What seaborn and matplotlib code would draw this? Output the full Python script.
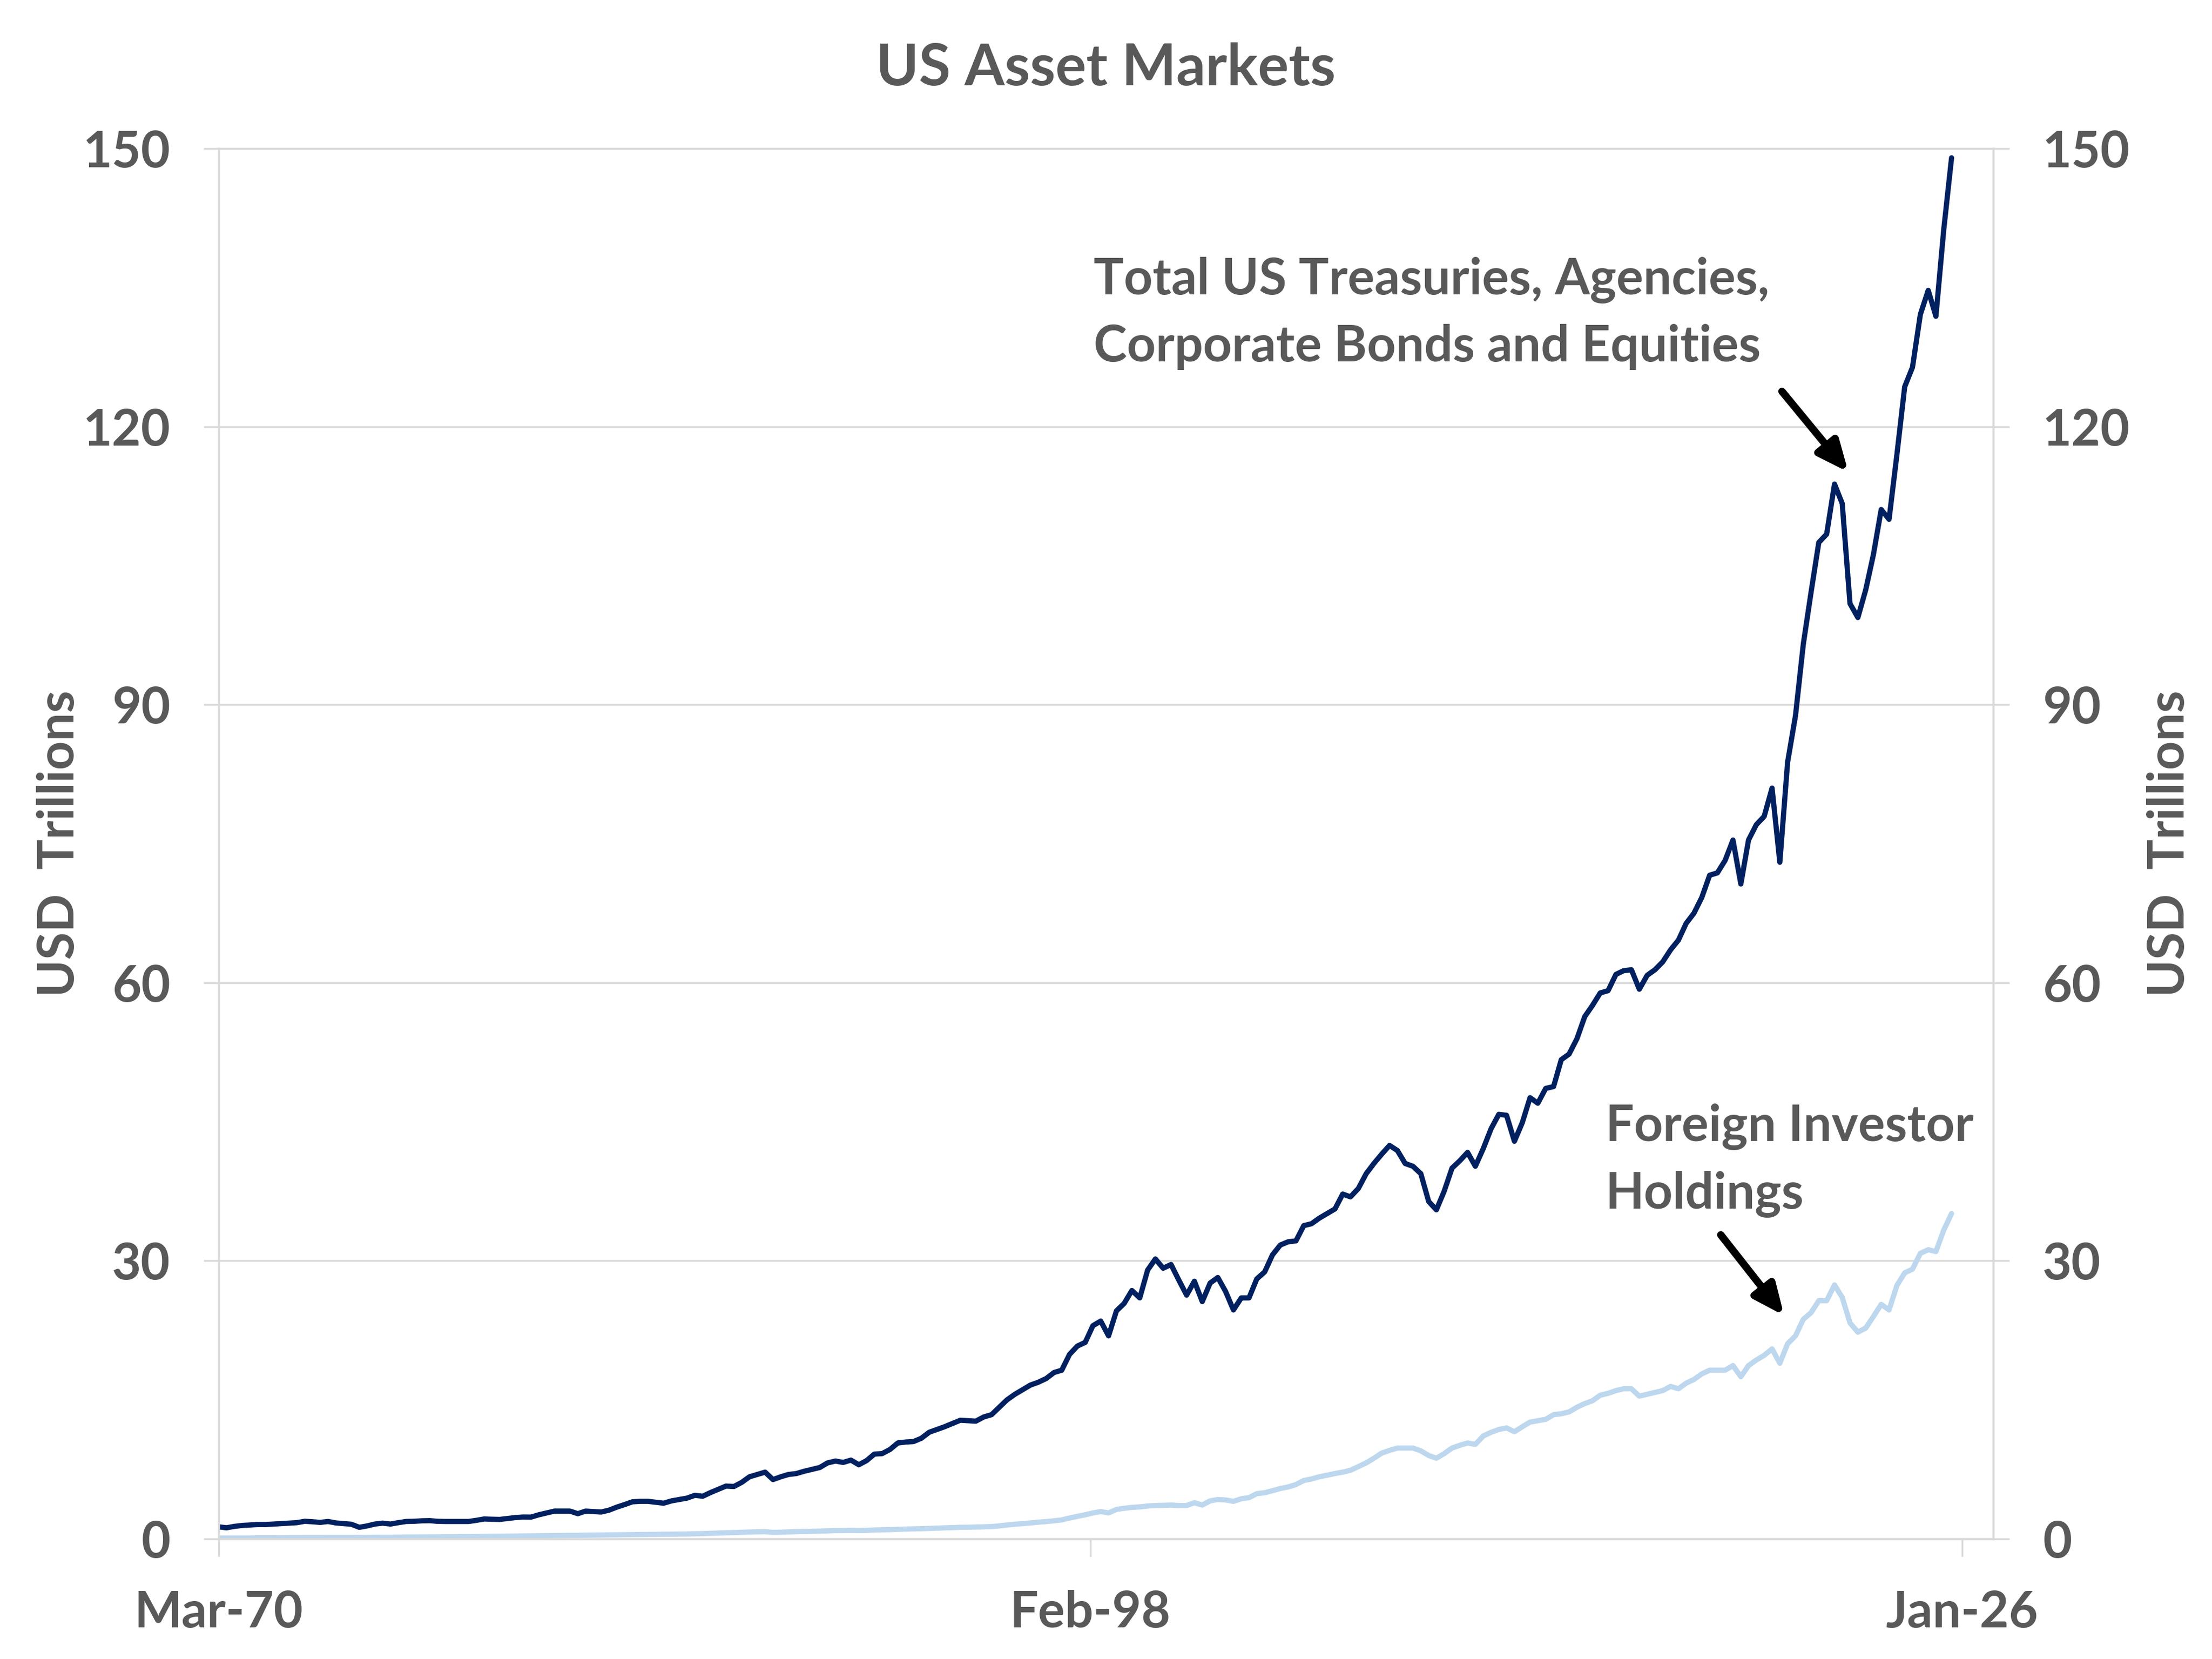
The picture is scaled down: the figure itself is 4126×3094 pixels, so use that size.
import pandas as pd
import matplotlib.pyplot as plt
import matplotlib.dates as mdates
import seaborn as sns

sns.set_theme(style="white")
plt.rcParams["font.family"] = ["Lato", "DejaVu Sans"]
plt.rcParams["font.weight"] = "bold"

TXT = "#595959"
GRID = "#d9d9d9"
NAVY = "#002060"
LIGHT = "#bdd7ee"

# quarterly values, Mar-70 .. Sep-25, USD trillions
total = [
    1.3, 1.2, 1.35, 1.45,        # 1970
    1.5, 1.55, 1.55, 1.6,        # 1971
    1.65, 1.7, 1.75, 1.9,        # 1972
    1.85, 1.78, 1.88, 1.72,      # 1973
    1.65, 1.58, 1.25, 1.4,       # 1974
    1.6, 1.7, 1.6, 1.75,         # 1975
    1.88, 1.9, 1.95, 1.97,       # 1976
    1.9, 1.88, 1.88, 1.88,       # 1977
    1.88, 2.0, 2.15, 2.12,       # 1978
    2.1, 2.2, 2.3, 2.36,         # 1979
    2.35, 2.6, 2.8, 3.0,         # 1980
    3.0, 3.0, 2.72, 3.0,         # 1981
    2.95, 2.9, 3.1, 3.43,        # 1982
    3.7, 4.0, 4.05, 4.05,        # 1983
    3.95, 3.85, 4.1, 4.25,       # 1984
    4.4, 4.7, 4.6, 5.0,          # 1985
    5.35, 5.7, 5.65, 6.1,        # 1986
    6.7, 6.95, 7.2, 6.4,         # 1987
    6.7, 6.95, 7.05, 7.3,        # 1988
    7.5, 7.7, 8.2, 8.4,          # 1989
    8.25, 8.5, 8.0, 8.45,        # 1990
    9.15, 9.2, 9.65, 10.35,      # 1991
    10.45, 10.5, 10.85, 11.5,    # 1992
    11.8, 12.1, 12.45, 12.8,     # 1993
    12.75, 12.7, 13.15, 13.4,    # 1994
    14.2, 15.0, 15.6, 16.1,      # 1995
    16.6, 16.9, 17.3, 17.95,     # 1996
    18.2, 19.9, 20.8, 21.2,      # 1997
    23.0, 23.5, 21.9, 24.6,      # 1998
    25.4, 26.8, 26.0, 29.0,      # 1999
    30.2, 29.2, 29.6, 27.9,      # 2000
    26.3, 27.8, 25.6, 27.6,      # 2001
    28.2, 26.7, 24.7, 26.0,      # 2002
    26.0, 28.05, 28.8, 30.65,    # 2003
    31.7, 32.05, 32.15, 33.8,    # 2004
    34.0, 34.6, 35.1, 35.6,      # 2005
    37.2, 36.9, 37.8, 39.4,      # 2006
    40.5, 41.5, 42.45, 41.9,     # 2007
    40.5, 40.2, 39.4, 36.4,      # 2008
    35.5, 37.5, 40.0, 40.8,      # 2009
    41.7, 40.2, 42.1, 44.25,     # 2010
    45.8, 45.7, 42.9, 44.9,      # 2011
    47.6, 47.0, 48.6, 48.8,      # 2012
    51.7, 52.3, 53.95, 56.35,    # 2013
    57.55, 58.9, 59.15, 60.9,    # 2014
    61.3, 61.4, 59.3, 60.8,      # 2015
    61.4, 62.25, 63.55, 64.6,    # 2016
    66.4, 67.5, 69.2, 71.6,      # 2017
    71.85, 73.2, 75.4, 70.65,    # 2018
    75.4, 77.05, 77.95, 81.0,    # 2019
    73.0, 83.8, 88.8, 96.55,     # 2020
    102.1, 107.5, 108.4, 113.8,  # 2021
    111.7, 100.9, 99.4, 102.4,   # 2022
    106.2, 111.05, 110.0, 117.0, # 2023
    124.3, 126.4, 132.1, 134.7,  # 2024
    131.9, 141.2, 149.0,         # 2025
]

foreign = [
    0.1, 0.1, 0.1, 0.1,          # 1970
    0.1, 0.12, 0.12, 0.12,       # 1971
    0.13, 0.14, 0.14, 0.15,      # 1972
    0.15, 0.15, 0.16, 0.16,      # 1973
    0.16, 0.16, 0.15, 0.16,      # 1974
    0.17, 0.18, 0.18, 0.19,      # 1975
    0.2, 0.2, 0.21, 0.22,        # 1976
    0.22, 0.23, 0.23, 0.24,      # 1977
    0.25, 0.26, 0.27, 0.28,      # 1978
    0.29, 0.3, 0.31, 0.32,       # 1979
    0.33, 0.34, 0.35, 0.36,      # 1980
    0.37, 0.38, 0.38, 0.4,       # 1981
    0.41, 0.42, 0.43, 0.44,      # 1982
    0.45, 0.46, 0.47, 0.48,      # 1983
    0.49, 0.5, 0.51, 0.52,       # 1984
    0.53, 0.55, 0.57, 0.6,       # 1985
    0.63, 0.66, 0.68, 0.71,      # 1986
    0.74, 0.76, 0.78, 0.7,       # 1987
    0.72, 0.75, 0.78, 0.8,       # 1988
    0.82, 0.84, 0.87, 0.9,       # 1989
    0.9, 0.92, 0.9, 0.92,        # 1990
    0.96, 0.98, 1.0, 1.04,       # 1991
    1.06, 1.08, 1.1, 1.13,       # 1992
    1.16, 1.19, 1.22, 1.25,      # 1993
    1.26, 1.28, 1.3, 1.33,       # 1994
    1.4, 1.5, 1.58, 1.65,        # 1995
    1.72, 1.8, 1.87, 1.95,       # 1996
    2.05, 2.25, 2.43, 2.6,       # 1997
    2.8, 2.95, 2.8, 3.18,        # 1998
    3.3, 3.4, 3.45, 3.55,        # 1999
    3.6, 3.62, 3.65, 3.6,        # 2000
    3.6, 3.9, 3.65, 4.1,         # 2001
    4.25, 4.2, 4.05, 4.33,       # 2002
    4.45, 4.88, 4.98, 5.2,       # 2003
    5.43, 5.6, 5.86, 6.3,        # 2004
    6.46, 6.7, 6.87, 7.05,       # 2005
    7.2, 7.4, 7.8, 8.2,          # 2006
    8.7, 9.25, 9.55, 9.8,        # 2007
    9.8, 9.8, 9.5, 9.0,          # 2008
    8.7, 9.2, 9.8, 10.1,         # 2009
    10.35, 10.2, 11.1, 11.5,     # 2010
    11.8, 11.97, 11.56, 12.1,    # 2011
    12.6, 12.75, 12.9, 13.4,     # 2012
    13.5, 13.7, 14.2, 14.6,      # 2013
    14.9, 15.5, 15.7, 16.0,      # 2014
    16.2, 16.2, 15.4, 15.6,      # 2015
    15.8, 16.0, 16.45, 16.2,     # 2016
    16.8, 17.2, 17.8, 18.2,      # 2017
    18.2, 18.2, 18.7, 17.5,      # 2018
    18.7, 19.3, 19.8, 20.5,      # 2019
    18.95, 21.06, 21.9, 23.7,    # 2020
    24.4, 25.7, 25.7, 27.4,      # 2021
    26.05, 23.3, 22.3, 22.75,    # 2022
    24.0, 25.3, 24.7, 27.35,     # 2023
    28.7, 29.1, 30.8, 31.2,      # 2024
    31.0, 33.3, 35.1,            # 2025
]

y_ticks = [0, 30, 60, 90, 120, 150]
x_ticks = ["1970-03-31", "1998-02-28", "2026-01-31"]

dates = pd.date_range("1970-03-31", periods=len(total), freq="QE")
df = pd.DataFrame({"date": dates, "total": total, "foreign": foreign})

fig, ax = plt.subplots(figsize=(4126 / 250, 3094 / 250), dpi=250)
fig.subplots_adjust(left=408 / 4126, right=3718 / 4126,
                    top=1 - 277 / 3094, bottom=1 - 2870 / 3094)

sns.lineplot(data=df, x="date", y="foreign", color=LIGHT, ax=ax)
sns.lineplot(data=df, x="date", y="total", color=NAVY, ax=ax)
for line in ax.get_lines():
    line.set_linewidth(2.8)
    line.set_solid_joinstyle("round")

ax.set_xlim(pd.Timestamp("1970-03-31"), pd.Timestamp("2027-01-31"))
ax.set_ylim(0, 150)
ax.set_xticks(pd.to_datetime(x_ticks))
ax.xaxis.set_major_formatter(mdates.DateFormatter("%b-%y"))
ax.set_yticks(y_ticks)
ax.yaxis.grid(True, color=GRID, lw=1)
ax.xaxis.grid(False)
ax.set_xlabel("")

for s in ax.spines.values():
    s.set_color(GRID)
    s.set_linewidth(1)

ax.tick_params(axis="x", direction="out", length=9.5, width=1, color=GRID,
               pad=18, labelsize=27, labelcolor=TXT, bottom=True)
ax.tick_params(axis="y", direction="out", length=8, width=1, color=GRID,
               pad=18, labelsize=27, labelcolor=TXT, left=True)
ax.set_ylabel("USD  Trillions", fontsize=27, fontweight="bold", color=TXT,
              va="center")
ax.yaxis.set_label_coords(-0.0897, 0.5)

ax2 = ax.twinx()
ax2.set_ylim(0, 150)
ax2.set_yticks(y_ticks)
for s in ax2.spines.values():
    s.set_color(GRID)
    s.set_linewidth(1)
ax2.tick_params(axis="y", direction="out", length=8.6, width=1, color=GRID,
                pad=18, labelsize=27, labelcolor=TXT, right=True)
ax2.set_ylabel("USD  Trillions", fontsize=27, fontweight="bold", color=TXT,
               rotation=90, va="center")
ax2.yaxis.set_label_coords(1.0994, 0.5)

ax.set_title("US Asset Markets", fontsize=31, fontweight="bold", color=TXT,
             pad=34)

ax.text(pd.Timestamp("1998-04-07"), 132.2,
        "Total US Treasuries, Agencies,\nCorporate Bonds and Equities",
        fontsize=27, color=TXT, ha="left", va="center", linespacing=1.55)
ax.text(pd.Timestamp("2014-08-30"), 40.8, "Foreign Investor\nHoldings",
        fontsize=27, color=TXT, ha="left", va="center", linespacing=1.55)

arrow = dict(arrowstyle="-|>,head_length=0.45,head_width=0.2", lw=4,
             color="black", mutation_scale=30, shrinkA=0, shrinkB=0)
ax.annotate("", xy=(pd.Timestamp("2022-06-10"), 115.1),
            xytext=(pd.Timestamp("2020-04-25"), 123.8), arrowprops=arrow)
ax.annotate("", xy=(pd.Timestamp("2020-05-20"), 24.1),
            xytext=(pd.Timestamp("2018-05-10"), 32.8), arrowprops=arrow)

fig.savefig("out.png", dpi=250)
